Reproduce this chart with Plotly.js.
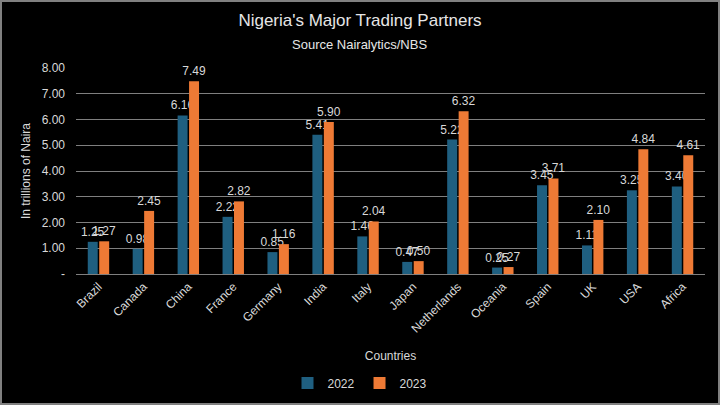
<!DOCTYPE html>
<html>
<head>
<meta charset="utf-8">
<script src="https://cdn.plot.ly/plotly-3.0.1.min.js"></script>
<style>
html,body{margin:0;padding:0;background:#000;}
#chart{width:720px;height:405px;box-sizing:border-box;border:2px solid #808080;}
</style>
</head>
<body>
<div id="chart"></div>
<script>
const countries = ["Brazil","Canada","China","France","Germany","India","Italy","Japan","Netherlands","Oceania","Spain","UK","USA","Africa"];
const values2022 = [1.25,0.98,6.16,2.22,0.85,5.41,1.46,0.47,5.22,0.25,3.45,1.11,3.25,3.40];
const values2023 = [1.27,2.45,7.49,2.82,1.16,5.90,2.04,0.50,6.32,0.27,3.71,2.10,4.84,4.61];
const yTickVals = [0,1,2,3,4,5,6,7,8];
const yTickText = ["-","1.00","2.00","3.00","4.00","5.00","6.00","7.00","8.00"];

const txtFont = {family:"Liberation Sans, Arial, sans-serif", size:12, color:"#d9d9d9"};
const traces = [
  {type:"bar", name:"2022", x:countries, y:values2022, marker:{color:"#1f5f80"},
   text:values2022.map(v=>v.toFixed(2)), textposition:"outside", textfont:txtFont,
   cliponaxis:false, constraintext:"none", hoverinfo:"x+y"},
  {type:"bar", name:"2023", x:countries, y:values2023, marker:{color:"#ee7a35"},
   text:values2023.map(v=>v.toFixed(2)), textposition:"outside", textfont:txtFont,
   cliponaxis:false, constraintext:"none", hoverinfo:"x+y"}
];
const layout = {
  width:716, height:401,
  paper_bgcolor:"#000", plot_bgcolor:"#000",
  margin:{l:74, r:13, t:66, b:129, autoexpand:false},
  barmode:"group", bargap:0.49, bargroupgap:0.13,
  title:{text:"Nigeria's Major Trading Partners",
         x:0.5, xanchor:"center", y:0.955, yanchor:"middle", yref:"container",
         font:{family:"Liberation Sans Narrow, Arial Narrow, sans-serif", size:17, color:"#e6e6e6"}},
  annotations:[{text:"Source Nairalytics/NBS", xref:"paper", yref:"paper", x:0.4515, y:1.1165,
                xanchor:"center", yanchor:"middle", showarrow:false,
                font:{family:"Liberation Sans Narrow, Arial Narrow, sans-serif", size:13, color:"#e6e6e6"}}],
  font:{family:"Liberation Sans, Arial, sans-serif", color:"#d9d9d9", size:12},
  xaxis:{title:{text:"Countries", font:{size:12, color:"#d9d9d9"}, standoff:17},
         automargin:false,
         tickangle:-45, tickfont:{size:12, color:"#d9d9d9"},
         showline:true, linecolor:"#7f7f7f", linewidth:1, showgrid:false, ticks:""},
  yaxis:{title:{text:"In trillions of Naira", font:{size:12, color:"#d9d9d9"}, standoff:8},
         automargin:false,
         range:[0,8], tickvals:yTickVals, ticktext:yTickText,
         tickfont:{size:12, color:"#d9d9d9"},
         showgrid:true, gridcolor:"#7f7f7f", gridwidth:1, zeroline:false,
         ticks:"", ticklabelstandoff:10},
  legend:{orientation:"h", x:0.5, xanchor:"center", xref:"container",
          y:0.05, yanchor:"middle", yref:"container",
          font:{size:12, color:"#d9d9d9"}, traceorder:"normal"},
  showlegend:true
};
Plotly.newPlot("chart", traces, layout, {displayModeBar:false, staticPlot:true});
</script>
</body>
</html>
